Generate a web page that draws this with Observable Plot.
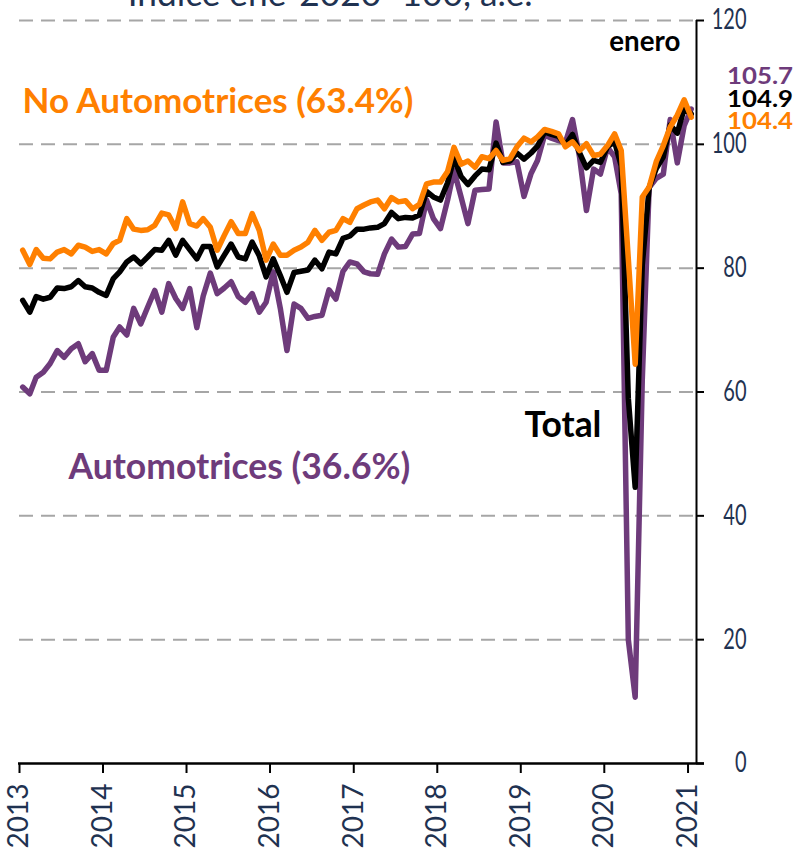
<!DOCTYPE html>
<html><head><meta charset="utf-8">
<script src="https://cdn.jsdelivr.net/npm/d3@7"></script>
<script src="https://cdn.jsdelivr.net/npm/@observablehq/plot@0.6"></script>
<style>
html,body{margin:0;padding:0;background:#fff;}
#chart{width:795px;height:848px;overflow:hidden;}
</style></head><body><div id="chart"></div>
<script>
// Monthly data, Jan 2013 .. Jan 2021 (index ene-2020=100, seasonally adjusted)
const startYear = 2013;
const noAuto = [
  82.9, 80.6, 83.0, 81.6, 81.5, 82.6, 83.0, 82.3, 83.7, 83.4, 82.7, 83.0,
  82.3, 84.0, 84.5, 88.0, 86.3, 86.1, 86.2, 86.9, 88.9, 88.6, 86.4, 90.7,
  87.2, 86.8, 88.0, 86.6, 82.9, 85.3, 87.5, 85.6, 85.6, 88.8, 86.1, 81.3,
  83.9, 82.1, 82.1, 82.9, 83.4, 84.2, 86.1, 84.5, 85.8, 86.1, 88.0, 87.4,
  89.6, 90.2, 90.7, 91.0, 89.6, 91.4, 90.7, 90.9, 89.6, 90.3, 93.6, 93.9,
  93.9, 95.6, 99.5, 96.8, 97.3, 96.3, 98.0, 97.7, 99.0, 97.4, 97.7, 99.6,
  101.0, 100.4, 101.2, 102.4, 102.1, 101.7, 99.6, 100.4, 99.0, 100.1, 98.2, 98.4,
  99.8, 101.7, 99.0, 81.5, 64.5, 91.5, 93.1, 97.2, 99.8, 102.8, 104.7, 107.2,
  104.4
];
const auto = [
  60.8, 59.7, 62.4, 63.2, 64.6, 66.7, 65.6, 67.0, 67.8, 64.9, 66.2, 63.5,
  63.5, 68.9, 70.5, 69.2, 73.5, 71.0, 73.7, 76.4, 72.9, 77.5, 75.1, 73.5,
  76.7, 70.4, 75.5, 79.2, 75.9, 76.8, 77.8, 75.4, 74.5, 75.9, 72.9, 74.5,
  79.4, 73.5, 66.7, 74.2, 73.5, 71.9, 72.2, 72.4, 76.5, 75.0, 79.5, 81.0,
  80.7, 79.4, 79.1, 79.0, 82.3, 84.7, 83.4, 83.5, 85.5, 85.6, 91.0, 88.0,
  86.4, 91.0, 95.8, 91.5, 87.2, 92.6, 92.7, 92.8, 103.6, 97.0, 97.0, 97.2,
  91.6, 95.3, 97.4, 101.5, 101.0, 100.6, 100.3, 104.0, 97.9, 89.3, 96.0, 95.2,
  99.5, 98.0, 92.0, 20.0, 10.7, 62.0, 93.0, 94.5, 95.2, 104.0, 97.0, 103.0,
  105.7
];
const total = [
  74.8, 72.9, 75.4, 75.0, 75.3, 76.8, 76.7, 77.0, 78.0, 77.0, 76.8, 76.1,
  75.6, 78.3, 79.4, 81.0, 81.8, 80.7, 81.8, 83.0, 82.9, 84.5, 82.1, 84.5,
  83.0, 81.5, 83.5, 83.5, 80.2, 82.1, 83.9, 81.8, 81.5, 84.2, 82.0, 78.6,
  81.5, 78.8, 76.1, 79.3, 79.5, 79.7, 81.3, 79.9, 82.6, 82.3, 84.8, 85.2,
  86.3, 86.3, 86.5, 86.6, 87.2, 89.0, 88.0, 88.2, 88.1, 88.6, 92.4, 91.5,
  91.0, 93.8, 97.8, 94.8, 93.5, 94.9, 96.0, 95.9, 100.2, 97.1, 97.3, 98.6,
  97.6, 98.6, 99.7, 102.0, 101.6, 101.3, 99.9, 101.6, 98.6, 96.2, 97.4, 97.1,
  99.6, 100.4, 96.5, 59.0, 44.6, 80.5, 93.0, 96.1, 98.0, 103.1, 101.8, 105.8,
  104.9
];
const yTicks = [0, 20, 40, 60, 80, 100, 120];
const gridValues = [20, 40, 60, 80, 100, 120];
const yearTicks = [2013, 2014, 2015, 2016, 2017, 2018, 2019, 2020, 2021];
const titleText = "Índice ene-2020=100, a.e.";
const seriesLabels = ["No Automotrices (63.4%)", "Automotrices (36.6%)", "Total"];
const lastLabels = ["105.7", "104.9", "104.4"];
const noteText = "enero";

const colors = {auto: "#6E3B7B", total: "#000000", noAuto: "#FF8000", axis: "#1F3251", grid: "#A6A6A6"};

const months = noAuto.map((_, i) => new Date(Date.UTC(startYear, i, 15)));
const toRows = (vals) => vals.map((v, i) => ({date: months[i], value: v}));
const xStart = new Date(Date.UTC(2013, 0, 1));
const xEnd = new Date(Date.UTC(2021, 1, 7));
const yearDates = yearTicks.map(y => new Date(Date.UTC(y, 0, 1)));
const d = (y, m, day) => new Date(Date.UTC(y, m, day));

const annotations = [
  {label: seriesLabels[0], date: d(2013, 0, 14), value: 105.0, color: colors.noAuto, size: 33, anchor: "start"},
  {label: seriesLabels[1], date: d(2013, 7, 3), value: 46.0, color: colors.auto, size: 33, anchor: "start"},
  {label: seriesLabels[2], date: d(2019, 0, 17), value: 52.8, color: colors.total, size: 33, anchor: "start"},
  {label: noteText, date: d(2020, 0, 23), value: 115.0, color: colors.total, size: 24, anchor: "start"},
  {label: lastLabels[0], date: d(2022, 3, 5), value: 109.7, color: colors.auto, size: 22, anchor: "end"},
  {label: lastLabels[1], date: d(2022, 3, 5), value: 106.0, color: colors.total, size: 22, anchor: "end"},
  {label: lastLabels[2], date: d(2022, 3, 5), value: 102.4, color: colors.noAuto, size: 22, anchor: "end"}
];
// widths measured on the reference: fonts scaled to fit
const fitFont = {
  "No Automotrices (63.4%)": 391, "Automotrices (36.6%)": 342, "Total": 77, "enero": 71,
  [titleText]: 405
};
// widths measured on the reference: glyphs compressed/stretched to fit (narrow-font look)
const fitLength = {"105.7": 66, "104.9": 66, "104.4": 66};
yTicks.forEach(v => { fitLength[String(v)] = 11.6 * String(v).length; });

const lineOpts = {x: "date", y: "value", strokeWidth: 5.5, strokeLinejoin: "round", strokeLinecap: "round"};

const chart = Plot.plot({
  width: 795, height: 848,
  marginLeft: 19, marginRight: 99, marginTop: 20, marginBottom: 85,
  x: {type: "utc", domain: [xStart, xEnd], axis: null},
  y: {domain: [0, 120], axis: null},
  style: {fontFamily: "Lato, 'Noto Sans', sans-serif", background: "#fff", overflow: "hidden"},
  marks: [
    Plot.ruleY(gridValues, {stroke: colors.grid, strokeWidth: 2, strokeDasharray: "14,8"}),
    Plot.line(toRows(auto), {...lineOpts, stroke: colors.auto}),
    Plot.line(toRows(total), {...lineOpts, stroke: colors.total}),
    Plot.line(toRows(noAuto), {...lineOpts, stroke: colors.noAuto}),
    Plot.ruleY([0], {stroke: "#000", strokeWidth: 2.5, insetRight: -8, insetLeft: -1}),
    Plot.ruleX([xEnd], {stroke: "#000", strokeWidth: 2}),
    Plot.ruleY(yTicks, {x1: xEnd, x2: xEnd, insetRight: -8, stroke: "#000", strokeWidth: 2}),
    Plot.ruleX(yearDates, {y1: 0, y2: 0, insetBottom: -10, stroke: "#000", strokeWidth: 2}),
    Plot.text(yearDates, {x: v => v, y: 0, text: v => String(v.getUTCFullYear()), rotate: -90,
      textAnchor: "end", lineAnchor: "middle", dy: 20, fontSize: 28, fill: colors.axis}),
    Plot.text(yTicks, {y: v => v, text: v => String(v), frameAnchor: "right", dx: 50,
      textAnchor: "end", lineAnchor: "middle", fontSize: 28, fill: colors.axis}),
    Plot.text(annotations.filter(a => a.anchor === "start"), {x: "date", y: "value", text: "label", fill: "color",
      fontSize: "size", fontWeight: "bold", textAnchor: "start", lineAnchor: "bottom"}),
    Plot.text(annotations.filter(a => a.anchor === "end"), {x: "date", y: "value", text: "label", fill: "color",
      fontSize: "size", fontWeight: "bold", textAnchor: "end", lineAnchor: "bottom"}),
    Plot.text([titleText], {x: () => d(2016, 8, 20), y: () => 122.3, text: v => v, textAnchor: "middle",
      lineAnchor: "bottom", fontSize: 40, fill: colors.axis})
  ]
});
document.getElementById("chart").appendChild(chart);

chart.querySelectorAll("text").forEach(el => {
  const t = el.textContent;
  if (fitFont[t] != null) {
    const w = el.getComputedTextLength();
    const fs = parseFloat(getComputedStyle(el).fontSize);
    if (w > 0) el.style.fontSize = (fs * fitFont[t] / w).toFixed(2) + "px";
  } else if (fitLength[t] != null) {
    el.setAttribute("textLength", fitLength[t]);
    el.setAttribute("lengthAdjust", "spacingAndGlyphs");
  }
});
</script>
</body></html>
